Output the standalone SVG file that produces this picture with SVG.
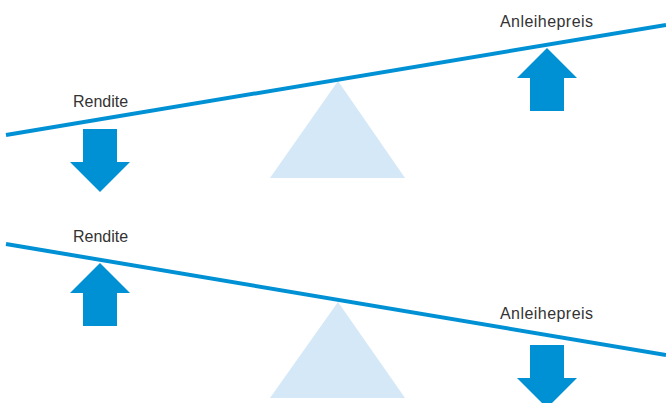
<svg xmlns="http://www.w3.org/2000/svg" width="666" height="403" viewBox="0 0 666 403">
  <style>
    .beam { stroke: #0091d5; stroke-width: 4; fill: none; }
    .pivot { fill: #d4e8f7; }
    .arrow { fill: #0091d5; }
    .label { font-family: "Liberation Sans", Arial, sans-serif; font-size: 16px; fill: #333333; }
  </style>
  <defs>
    <!-- block arrow pointing up, origin at the tip -->
    <polygon id="arrowUp" points="0,0 30,30 17,30 17,63 -17,63 -17,30 -30,30"/>
  </defs>

  <!-- top seesaw: yield falls, price rises -->
  <g id="seesaw-top">
    <g id="pivot-top"><polygon class="pivot" points="338,81 405,178 270,178"/></g>
    <g id="beam-top"><line class="beam" x1="6" y1="135" x2="666" y2="25"/></g>
    <g id="label-rendite-top"><text class="label" x="73" y="107">Rendite</text></g>
    <g id="label-preis-top"><text class="label" x="500" y="27" textLength="93">Anleihepreis</text></g>
    <g id="arrow-rendite-down"><use href="#arrowUp" class="arrow" transform="translate(100,192) rotate(180)"/></g>
    <g id="arrow-preis-up"><use href="#arrowUp" class="arrow" transform="translate(547,48)"/></g>
  </g>

  <!-- bottom seesaw: yield rises, price falls -->
  <g id="seesaw-bottom">
    <g id="pivot-bottom"><polygon class="pivot" points="338,302 405,398 270,398"/></g>
    <g id="beam-bottom"><line class="beam" x1="6" y1="244" x2="666" y2="355"/></g>
    <g id="label-rendite-bottom"><text class="label" x="73" y="242">Rendite</text></g>
    <g id="label-preis-bottom"><text class="label" x="500" y="319" textLength="93">Anleihepreis</text></g>
    <g id="arrow-rendite-up"><use href="#arrowUp" class="arrow" transform="translate(100,263)"/></g>
    <g id="arrow-preis-down"><use href="#arrowUp" class="arrow" transform="translate(547,408) rotate(180)"/></g>
  </g>
</svg>
